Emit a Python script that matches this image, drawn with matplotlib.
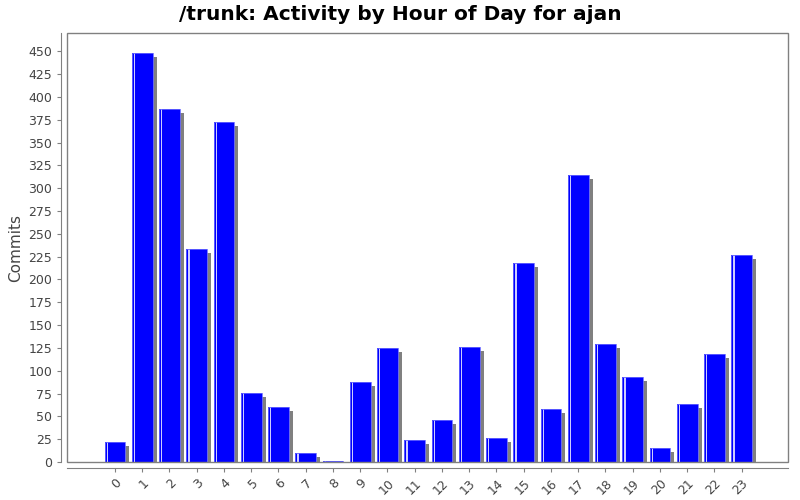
import matplotlib
matplotlib.use("Agg")
import matplotlib.pyplot as plt
import matplotlib.transforms as mtransforms
from matplotlib.patches import Rectangle

hours = list(range(24))
commits = [22, 448, 387, 233, 372, 76, 60, 10, 1, 88, 125, 24,
           46, 126, 26, 218, 58, 314, 129, 93, 15, 64, 118, 227]
labels = [str(h) for h in hours]

fig = plt.figure(figsize=(8, 5), dpi=100)
ax = fig.add_axes([0.0834, 0.076, 0.9016, 0.858])

w = 0.76
# shadow, offset 4px right / 4px down
shadow = mtransforms.offset_copy(ax.transData, fig=fig, x=4, y=-4, units="dots")
ax.bar(hours, commits, width=w, color="#808080", transform=shadow, zorder=1)
ax.bar(hours, commits, width=w, color="#0000ff", zorder=2)
# light highlight stripe near left edge of each bar
hl = mtransforms.offset_copy(ax.transData, fig=fig, x=2, y=0, units="dots")
ax.bar([h - w / 2 for h in hours], commits, width=0.045, align="edge",
       color="#ccccff", transform=hl, zorder=3)
ax.bar(hours, commits, width=w, fill=False, edgecolor="#6666ff", linewidth=0.6, zorder=3)

ax.set_xlim(-1.77, 24.7)
ax.set_ylim(0, 470)
ax.set_yticks(range(0, 451, 25))
ax.set_xticks(hours)
ax.set_xticklabels(labels)

for s in ["top", "right"]:
    ax.spines[s].set_visible(False)
ax.spines["left"].set_position(("outward", 4))
ax.spines["bottom"].set_position(("outward", 4))
for s in ["left", "bottom"]:
    ax.spines[s].set_color("#808080")
ax.add_patch(Rectangle((0, 0), 1, 1, transform=ax.transAxes, fill=False,
                       edgecolor="#808080", linewidth=1.0, clip_on=False, zorder=5))

ax.tick_params(axis="both", colors="#808080", labelcolor="#444444",
               labelsize=9, length=3, width=0.8)
ax.tick_params(axis="x", labelrotation=45)
for lab in ax.get_xticklabels():
    lab.set_horizontalalignment("right")
    lab.set_rotation_mode("anchor")
ax.set_ylabel("Commits", fontsize=11, color="#444444", labelpad=4)
fig.suptitle("/trunk: Activity by Hour of Day for ajan", fontsize=14.5,
             fontweight="bold", y=0.99)

fig.savefig("out.png", dpi=100)
